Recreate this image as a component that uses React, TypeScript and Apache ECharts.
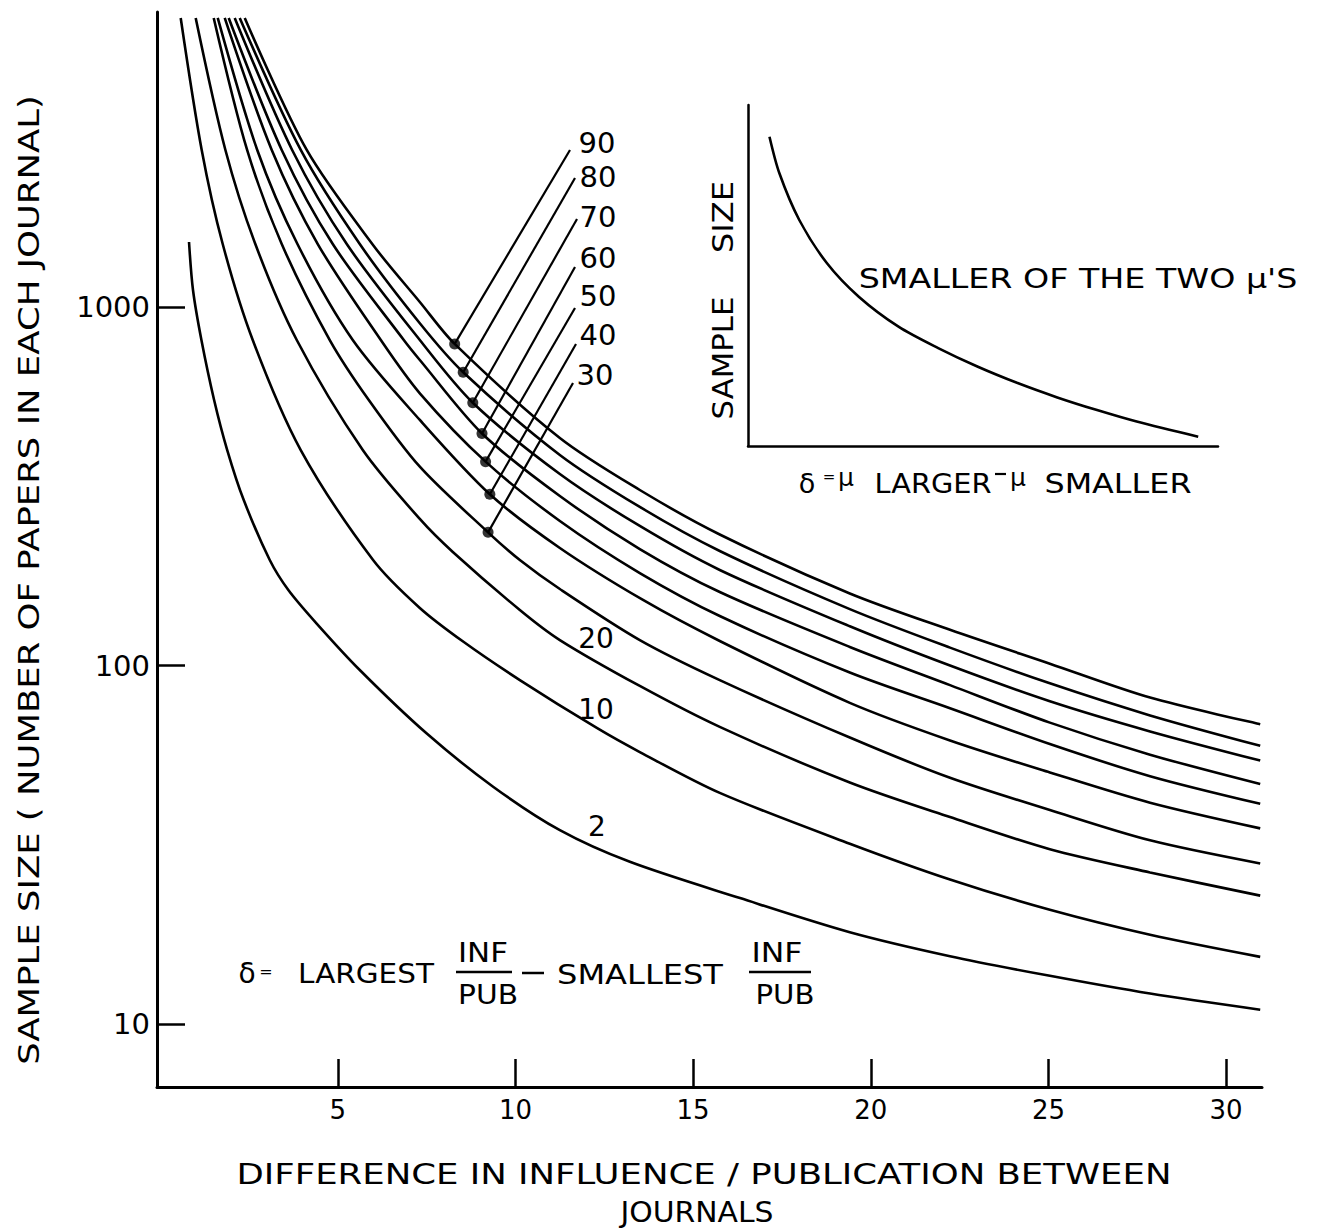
import React, { useEffect, useRef } from "react";
import * as echarts from "echarts";

// ---------------- data ----------------
const X_TICKS = [5, 10, 15, 20, 25, 30];
const Y_TICKS = [10, 100, 1000];

// [delta, sample size]
const CURVE_2 = [[0.814, 1518], [0.926, 1115], [1.163, 809], [1.52, 550.6], [1.889, 399.3], [2.354, 289.6], [3.086, 197.1], [3.609, 162.6], [4.4, 131.3], [5.619, 97.3], [7.497, 64.8], [9.372, 46.0], [11.25, 34.8], [13.22, 28.4], [16.32, 22.5], [19.41, 18.07], [22.23, 15.49], [25.04, 13.66], [27.86, 12.19], [30.96, 10.99]];
const CURVE_10 = [[0.58, 6394], [1.171, 2740], [1.762, 1498], [2.607, 809], [3.958, 399.3], [5.994, 197.1], [7.309, 144.9], [8.547, 116.4], [10.124, 91.2], [12.29, 67.06], [13.5, 57.45], [15.75, 44.2], [19.41, 31.9], [22.23, 25.35], [25.04, 20.87], [27.86, 17.78], [30.96, 15.43]];
const CURVE_20 = [[1.002, 6394], [1.838, 2740], [2.68, 1498], [3.846, 809], [5.704, 399.3], [7.309, 256.5], [8.238, 207.5], [10.124, 143.0], [11.25, 117.9], [13.5, 87.8], [15.75, 67.5], [19.41, 47.25], [22.23, 37.84], [25.04, 30.79], [27.86, 26.53], [30.96, 22.86]];
const CURVE_30 = [[1.509, 6394], [2.449, 2740], [3.423, 1498], [4.775, 809], [5.873, 550.6], [7.309, 358.7], [9.23, 235.4], [10.124, 197.1], [11.25, 163.6], [13.5, 117.9], [15.75, 91.2], [19.41, 63.06], [22.23, 48.7], [25.04, 39.6], [27.86, 32.6], [30.96, 28.1]];
const CURVE_40 = [[1.622, 6394], [2.734, 2740], [3.865, 1498], [5.422, 809], [7.309, 484.2], [9.28, 300.5], [11.25, 212.9], [13.59, 152.5], [15.75, 117.2], [19.41, 78.8], [22.23, 61.9], [25.04, 50.4], [27.86, 41.5], [30.96, 35.2]];
const CURVE_50 = [[1.819, 6394], [3.142, 2740], [4.437, 1498], [6.211, 809], [7.309, 574.7], [9.16, 370.6], [11.25, 253.2], [13.5, 181.3], [15.75, 137.6], [19.41, 95.7], [22.23, 76.1], [25.04, 60.5], [27.86, 49.2], [30.96, 41.2]];
const CURVE_60 = [[1.931, 6394], [3.423, 2740], [4.859, 1498], [6.858, 809], [7.309, 711.5], [9.06, 444], [11.25, 297.2], [13.5, 211.5], [15.75, 160.5], [19.41, 112.8], [22.23, 88.3], [25.04, 69.4], [27.86, 56.5], [30.96, 46.8]];
const CURVE_70 = [[2.1, 6394], [3.716, 2740], [5.253, 1498], [7.309, 809], [8.8, 541], [11.25, 342.2], [13.5, 245.2], [15.75, 184.9], [19.41, 128.8], [22.23, 100.1], [25.04, 79.6], [27.86, 65.6], [30.96, 54.4]];
const CURVE_80 = [[2.241, 6394], [3.958, 2740], [5.619, 1498], [7.309, 900.8], [8.53, 657.7], [11.25, 386.8], [13.5, 277.0], [15.75, 208.8], [19.41, 143.8], [22.23, 112.3], [25.04, 89.3], [27.86, 72.7], [30.96, 59.8]];
const CURVE_90 = [[2.382, 6394], [4.127, 2740], [6.014, 1479.5], [7.309, 1032.6], [8.29, 789], [11.25, 431.3], [13.5, 308.9], [15.75, 232.2], [19.41, 159.0], [22.23, 125.9], [25.04, 101.3], [27.86, 81.5], [30.96, 68.7]];

const CURVE_NAMES = ["2", "10", "20", "30", "40", "50", "60", "70", "80", "90"];
const CURVE_DATA = [CURVE_2, CURVE_10, CURVE_20, CURVE_30, CURVE_40, CURVE_50, CURVE_60, CURVE_70, CURVE_80, CURVE_90];

// labelled points (dots) on curves 90 ... 30
const DOT_LABELS = ["90", "80", "70", "60", "50", "40", "30"];
const DOTS = [[8.29, 789], [8.53, 657.7], [8.8, 541], [9.06, 444], [9.16, 370.6], [9.28, 300.5], [9.23, 235.4]];

// inset sketch curve (normalised axes 0..1)
const INSET_CURVE = [[0.0457, 0.907], [0.0668, 0.7997], [0.1091, 0.6628], [0.1681, 0.5358], [0.2357, 0.4378], [0.3202, 0.3499], [0.4047, 0.2871], [0.4891, 0.2323], [0.5736, 0.1845], [0.6581, 0.1425], [0.7426, 0.1053], [0.827, 0.0716], [0.9579, 0.0273]];

// ---------------- layout (pixels) ----------------
const LABEL_POS = [[597, 143], [598, 177], [598, 217], [598, 258], [598, 296], [598, 335], [595, 375]];
const LEADER_END = [[570, 150], [575, 178], [577, 219], [575, 267], [575, 308], [576, 344], [573, 383]];
const LOW_LABEL_POS: [string, number, number][] = [["20", 596, 638], ["10", 596, 709], ["2", 597, 826]];

const FONT = '"DejaVu Sans", sans-serif';

export default function App() {
  const ref = useRef<HTMLDivElement>(null);

  useEffect(() => {
    document.body.style.margin = "0";
    const chart = echarts.init(ref.current!, null, { renderer: "svg" });

    const ctx = document.createElement("canvas").getContext("2d")!;
    const measure = (t: string, size: number) => {
      ctx.font = `${size}px "DejaVu Sans"`;
      return ctx.measureText(t).width;
    };
    const txt = (t: string, cx: number, cy: number, size: number, width?: number, rotation = 0): any => ({
      type: "text",
      x: cx,
      y: cy,
      rotation,
      scaleX: width ? width / measure(t, size) : 1,
      silent: true,
      z: 10,
      style: {
        text: t,
        fontSize: size,
        fontFamily: FONT,
        fill: "#000",
        align: "center",
        verticalAlign: "middle",
        textAlign: "center",
        textVerticalAlign: "middle",
      },
    });
    const seg = (x1: number, y1: number, x2: number, y2: number, w = 2.5): any => ({
      type: "line",
      silent: true,
      z: 10,
      shape: { x1, y1, x2, y2 },
      style: { stroke: "#000", lineWidth: w },
    });

    const series: any[] = CURVE_DATA.map((d, i) => ({
      type: "line",
      name: CURVE_NAMES[i],
      data: d,
      xAxisIndex: 0,
      yAxisIndex: 0,
      smooth: 0.3,
      symbol: "none",
      showSymbol: false,
      lineStyle: { color: "#000", width: 2.6 },
      silent: true,
      z: 3,
    }));
    series.push({
      type: "scatter",
      name: "points",
      data: DOTS,
      xAxisIndex: 0,
      yAxisIndex: 0,
      symbol: "circle",
      symbolSize: 11,
      itemStyle: { color: "#000" },
      silent: true,
      z: 6,
    });
    series.push({
      type: "line",
      name: "inset",
      data: INSET_CURVE,
      xAxisIndex: 1,
      yAxisIndex: 1,
      smooth: 0.3,
      symbol: "none",
      showSymbol: false,
      lineStyle: { color: "#000", width: 2.6 },
      silent: true,
    });

    chart.setOption({
      animation: false,
      backgroundColor: "#fff",
      grid: [
        { left: 157, top: 12, width: 1105, height: 1075 },
        { left: 748, top: 105, width: 470, height: 341 },
      ],
      xAxis: [
        {
          type: "value",
          gridIndex: 0,
          min: -0.087,
          max: 31.01,
          axisLine: { onZero: false, lineStyle: { color: "#000", width: 3 } },
          axisTick: { inside: true, length: 28, customValues: X_TICKS, lineStyle: { color: "#000", width: 2.5 } },
          axisLabel: { customValues: X_TICKS, fontSize: 26, fontFamily: FONT, color: "#000", margin: 10 },
          splitLine: { show: false },
        },
        {
          type: "value",
          gridIndex: 1,
          min: 0,
          max: 1,
          axisLine: { onZero: false, lineStyle: { color: "#000", width: 2.5 } },
          axisTick: { show: false },
          axisLabel: { show: false },
          splitLine: { show: false },
        },
      ],
      yAxis: [
        {
          type: "log",
          logBase: 10,
          gridIndex: 0,
          min: 6.692,
          max: 6643,
          axisLine: { onZero: false, lineStyle: { color: "#000", width: 3 } },
          axisTick: { inside: true, length: 28, customValues: Y_TICKS, lineStyle: { color: "#000", width: 2.5 } },
          axisLabel: {
            customValues: Y_TICKS,
            fontSize: 29,
            fontFamily: FONT,
            color: "#000",
            margin: 7,
            formatter: (v: number) => String(Math.round(v)),
          },
          splitLine: { show: false },
        },
        {
          type: "value",
          gridIndex: 1,
          min: 0,
          max: 1,
          axisLine: { onZero: false, lineStyle: { color: "#000", width: 2.5 } },
          axisTick: { show: false },
          axisLabel: { show: false },
          splitLine: { show: false },
        },
      ],
      series,
    });

    // annotations that link to data points
    const graphic: any[] = [];
    DOTS.forEach((d, i) => {
      const p = chart.convertToPixel({ xAxisIndex: 0, yAxisIndex: 0 }, d) as number[];
      graphic.push(seg(p[0], p[1], LEADER_END[i][0], LEADER_END[i][1], 2.2));
      graphic.push(txt(DOT_LABELS[i], LABEL_POS[i][0], LABEL_POS[i][1], 29));
    });
    LOW_LABEL_POS.forEach(([t, x, y]) => graphic.push(txt(t, x, y, 28)));

    // axis titles
    graphic.push(txt("SAMPLE SIZE ( NUMBER OF PAPERS IN EACH JOURNAL)", 29, 580, 28, 970, Math.PI / 2));
    graphic.push(txt("DIFFERENCE IN INFLUENCE / PUBLICATION BETWEEN", 704, 1174, 28, 935));
    graphic.push(txt("JOURNALS", 697, 1212, 28, 153));

    // delta definition
    graphic.push(txt("δ", 247, 973, 28));
    graphic.push(txt("=", 266, 971, 16));
    graphic.push(txt("LARGEST", 366, 974, 27, 136));
    graphic.push(txt("INF", 483, 953, 27, 50));
    graphic.push(seg(456, 972, 512, 972, 2.5));
    graphic.push(txt("PUB", 488, 995, 27, 60));
    graphic.push(seg(522, 973, 544, 973, 2.5));
    graphic.push(txt("SMALLEST", 640, 974, 27, 166));
    graphic.push(txt("INF", 777, 953, 27, 51));
    graphic.push(seg(749, 972, 811, 972, 2.5));
    graphic.push(txt("PUB", 785, 995, 27, 59));

    // inset texts
    graphic.push(txt("SAMPLE", 723, 358, 28, 123, Math.PI / 2));
    graphic.push(txt("SIZE", 723, 217, 28, 72, Math.PI / 2));
    graphic.push(txt("SMALLER OF THE TWO μ'S", 1078, 279, 27, 439));
    graphic.push(txt("δ", 807, 483, 27));
    graphic.push(txt("=", 829, 477, 15));
    graphic.push(txt("μ", 846, 477, 25));
    graphic.push(txt("LARGER", 933, 484, 27, 117));
    graphic.push(seg(995, 474, 1006, 474, 2.2));
    graphic.push(txt("μ", 1018, 477, 25));
    graphic.push(txt("SMALLER", 1118, 484, 27, 147));

    chart.setOption({ graphic });

    return () => chart.dispose();
  }, []);

  return <div ref={ref} style={{ width: 1317, height: 1230, background: "#fff" }} />;
}
